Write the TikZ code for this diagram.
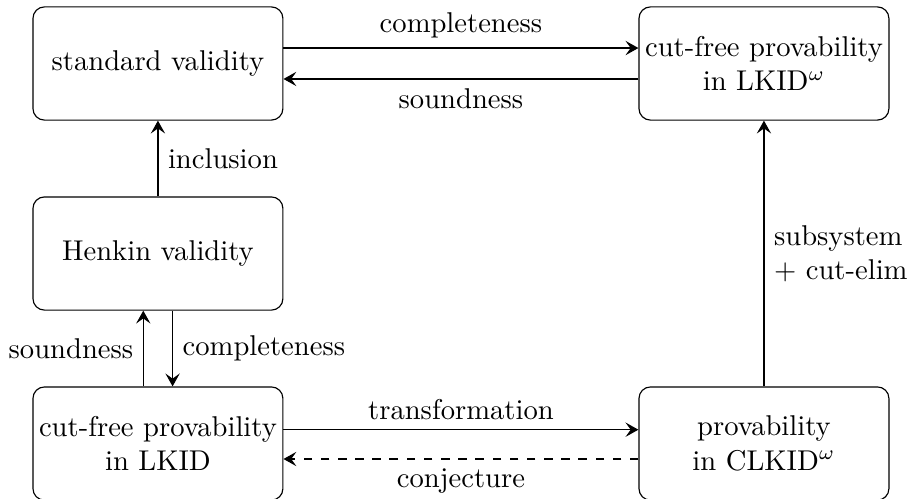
\documentclass[tikz,border=0pt]{standalone}
\usetikzlibrary{arrows.meta,positioning}

\begin{document}
\begin{tikzpicture}[
  >={Stealth[length=4.5pt,width=5pt,inset=1.8pt]},
  box/.style={draw, rounded corners, align=center, minimum width=3.07cm, minimum height=1.39cm, inner sep=2pt},
]
\useasboundingbox (-1.94,0.78) rectangle (9.41,-5.34);
% semantic side (left column) and cyclic side (right column)
\node[box] (std) {standard validity};
\node[box, right=4.36cm of std] (lkidw) {cut-free provability\\in LKID$^\omega$};
\node[box, below=0.93cm of std] (henkin) {Henkin validity};
\node[box, below=0.93cm of henkin] (lkid) {cut-free provability\\in LKID};
\node[box, right=4.36cm of lkid] (clkid) {provability\\in CLKID$^\omega$};
% top row
\draw[->] ([yshift=0.19cm]std.east) -- node[above]{completeness} ([yshift=0.19cm]lkidw.west);
\draw[->] ([yshift=-0.19cm]lkidw.west) -- node[below]{soundness} ([yshift=-0.19cm]std.east);
% left column
\draw[->] (henkin) -- node[right]{inclusion} (std);
\draw[->] ([xshift=-0.18cm]lkid.north) -- node[left]{soundness} ([xshift=-0.18cm]henkin.south);
\draw[->] ([xshift=0.18cm]henkin.south) -- node[right]{completeness} ([xshift=0.18cm]lkid.north);
% bottom row
\draw[->] ([yshift=0.17cm]lkid.east) -- node[above]{transformation} ([yshift=0.17cm]clkid.west);
\draw[->, dashed] ([yshift=-0.19cm]clkid.west) -- node[below]{conjecture} ([yshift=-0.19cm]lkid.east);
% right column
\draw[->] (clkid) -- node[right, align=left]{subsystem\\+ cut-elim} (lkidw);
\end{tikzpicture}
\end{document}
